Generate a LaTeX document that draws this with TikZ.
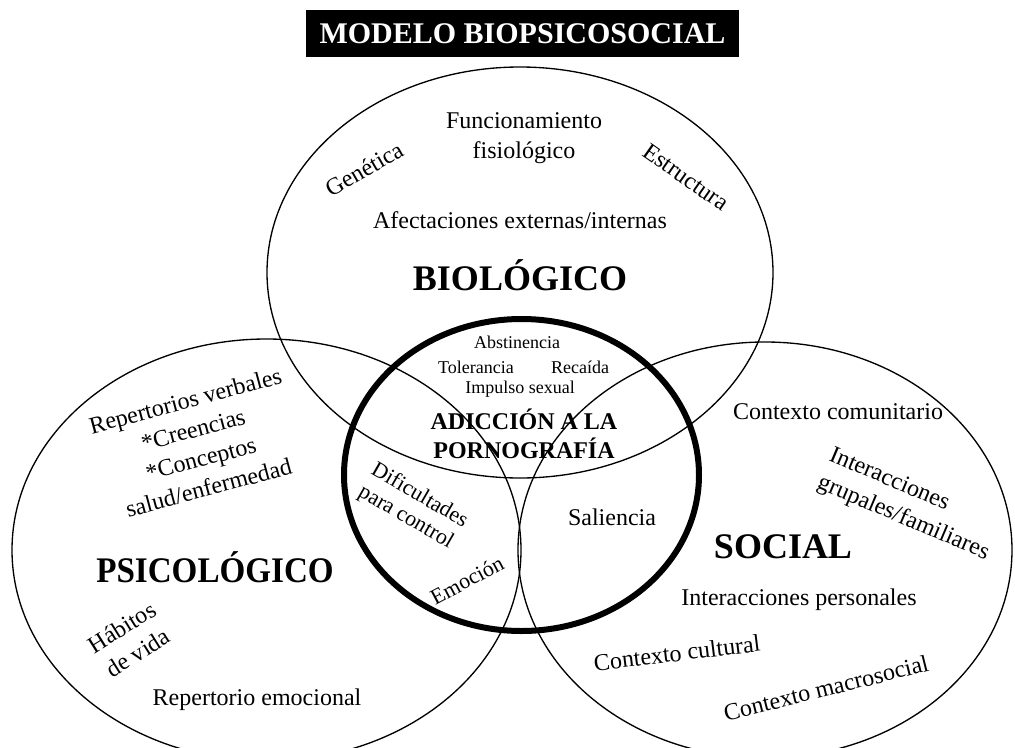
\documentclass[tikz,border=0pt]{standalone}
\usepackage{fontspec}
\setmainfont{Liberation Serif}
\usetikzlibrary{positioning}

\begin{document}
\begin{tikzpicture}[
	  x=0.75pt, y=-0.75pt,
	  area/.style={line width=1pt},
	  core/.style={line width=4.5pt},
	  txt/.style={font=\fontsize{18}{22.5}\selectfont, align=center, inner sep=0pt},
	  small/.style={font=\fontsize{13.5}{16}\selectfont, inner sep=0pt},
	  mid/.style={font=\fontsize{16.5}{19}\selectfont, align=left, inner sep=0pt},
	  big/.style={font=\fontsize{27}{32}\selectfont\bfseries, inner sep=0pt},
	  centre/.style={font=\fontsize{18}{21.75}\selectfont\bfseries, align=center, inner sep=0pt},
	  title/.style={fill=black, text=white, font=\fontsize{22.5}{27}\selectfont\bfseries,
	    minimum width=325pt, minimum height=35pt, inner sep=0pt}
	]
	\useasboundingbox (0,0) rectangle (1015,747);
	
	% Title
	\node[title] (titulo) at (522.5,33.5) {MODELO BIOPSICOSOCIAL};
	
	% The three areas and the core
	\draw[area] (520,272.5) ellipse [x radius=253, y radius=205.5];
	\draw[area] (266.5,550) ellipse [x radius=254.5, y radius=211];
	\draw[area] (765,550) ellipse [x radius=247, y radius=208];
	\draw[core] (521.5,475) ellipse [x radius=177.5, y radius=156];
	
	% Biological area
	\node[txt] (funcion) at (524,138) {Funcionamiento\\fisiológico};
	\node[txt, rotate=30] (genetica) at (364,169) {Genética};
	\node[txt, rotate=-35] (estructura) at (686,177) {Estructura};
	\node[txt] (afect) at (520,220) {Afectaciones externas/internas};
	\node[big] (bio) at (520,275) {BIOLÓGICO};
	
	% Core
	\node[small] (abst) at (517,342) {Abstinencia};
	\node[small] (toler) at (476,367) {Tolerancia};
	\node[small] (recaida) at (580,367) {Recaída};
	\node[small] (impulso) at (520,389) {Impulso sexual};
	\node[centre] (adiccion) at (524,434) {ADICCIÓN A LA\\PORNOGRAFÍA};
	\node[mid, rotate=-30] (dificul) at (413,507) {Dificultades\\para control};
	\node[mid, rotate=28] (emocion) at (467,580) {Emoción};
	\node[txt] (saliencia) at (612,517) {Saliencia};
	
	% Psychological area
	\node[txt, rotate=15] (verbales) at (197,444) {Repertorios verbales\\*Creencias\\*Conceptos\\salud/enfermedad};
	\node[big, xscale=0.92] (psico) at (215,567) {PSICOLÓGICO};
	\node[txt, rotate=32] (habitos) at (130,640) {Hábitos\\de vida};
	\node[txt] (emocional) at (257,700) {Repertorio emocional};
	
	% Social area
	\node[txt] (comunit) at (838,412) {Contexto comunitario};
	\node[txt, align=left, rotate=-23] (grupales) at (909,505) {Interacciones\\grupales/familiares};
	\node[big] (social) at (783,547) {SOCIAL};
	\node[txt] (personales) at (799,600) {Interacciones personales};
	\node[txt, rotate=7] (cultural) at (677,653) {Contexto cultural};
	\node[txt, rotate=14] (macro) at (826,688) {Contexto macrosocial};
	
	\end{tikzpicture}
\end{document}
